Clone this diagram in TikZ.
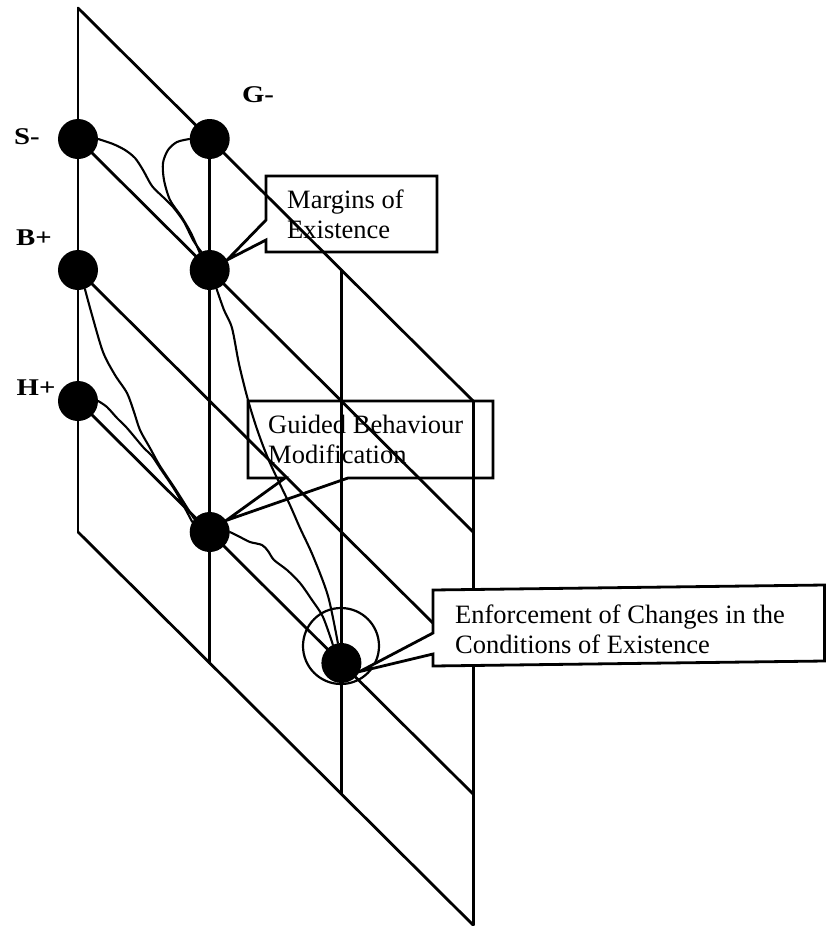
\documentclass[tikz,border=0pt]{standalone}
\usepackage{fontspec}
\setmainfont{Liberation Serif}
\begin{document}
\begin{tikzpicture}[x=1pt,y=-1pt,
  gridline/.style={line width=2.8pt, line cap=round},
  wavy/.style={line width=2.1pt, line join=round, line cap=round},
  dot/.style={circle, fill=black, minimum size=40pt, inner sep=0pt},
  lab/.style={font=\fontsize{24}{26}\selectfont\bfseries, inner sep=0pt},
  boxtext/.style={font=\fontsize{26.5}{30}\selectfont, align=left, inner sep=0pt, anchor=west},
  callout/.style={line width=2.8pt, line join=miter}
]
\useasboundingbox (0,0) rectangle (826,926);

% grid points
\foreach \i in {0,1,2,3}{
  \foreach \j in {0,1,2,3,4}{
    \coordinate (g-\i-\j) at ({78+131.7*\i},{8+131*(\i+\j)});
  }
}
% verticals
\foreach \i in {0,1,2,3}{
  \draw[gridline] (g-\i-0) -- (g-\i-4);
}
% diagonals
\foreach \j in {0,1,2,3,4}{
  \draw[gridline] (g-0-\j) -- (g-3-\j);
}

% nodes
\node[dot] (Sm) at (g-0-1) {};
\node[dot] (Gm) at (g-1-0) {};
\node[dot] (Bp) at (g-0-2) {};
\node[dot] (M)  at (g-1-1) {};
\node[dot] (Hp) at (g-0-3) {};
\node[dot] (GB) at (g-1-3) {};
\node[dot] (E)  at (g-2-3) {};

% big ring around E
\node[circle, draw, line width=2.2pt, minimum size=76pt, inner sep=0pt] (ring) at (341,646) {};

% hand-drawn connectors
\draw[wavy] plot[smooth, tension=0.5] coordinates {(Sm.east) (113,144) (125,150) (135,158) (143,170) (152,186) (163,197) (173,207) (184,222) (193,240) (M.115)};
\draw[wavy] plot[smooth, tension=0.5] coordinates {(Gm.west) (177,142) (168,150) (163,163) (164,180) (170,200) (181,216) (191,233) (M.120)};
\draw[wavy] plot[smooth, tension=0.5] coordinates {(M.-70) (224,310) (232,328) (239,364) (248,400) (258,432) (270,463) (289,503) (300,528) (313,556) (328,596) (E.100)};
\draw[wavy] plot[smooth, tension=0.5] coordinates {(Bp.-70) (92,315) (103,352) (115,375) (127,393) (134,412) (140,430) (150,448) (160,466) (176,490) (GB.140)};
\draw[wavy] plot[smooth, tension=0.5] coordinates {(Hp.east) (107,407) (117,418) (127,428) (143,447) (152,456) (160,468) (176,492) (GB.150)};
\draw[wavy] plot[smooth, tension=0.5] coordinates {(GB.east) (240,537) (250,542) (262,545) (268,551) (274,560) (287,570) (300,583) (312,600) (323,617) (E.115)};

% callout boxes
\draw[callout] (266,176) -- (437,176) -- (437,252) -- (266,252) -- (266,240) -- (M.30) -- (266,220) -- cycle;
\draw[callout] (248,401) -- (493,401) -- (493,478) -- (348,478) -- (GB.35) -- (285,478) -- (248,478) -- cycle;
\draw[callout, fill=white] (433,590) -- (824.5,585) -- (824.5,661) -- (433,666) -- (433,654) -- (E.-25) -- (433,633) -- cycle;

% box texts
\node[boxtext] (mtext) at (287,214) {Margins of\\Existence};
\node[boxtext] (gtext) at (268,439) {Guided Behaviour\\Modification};
\node[boxtext] (etext) at (455,629) {Enforcement of Changes in the\\Conditions of Existence};

% labels
\node[lab] (lS) at (27,137) {\scalebox{1.2}[1]{S-}};
\node[lab] (lG) at (258,95) {\scalebox{1.2}[1]{G-}};
\node[lab] (lB) at (34,238) {\scalebox{1.2}[1]{B+}};
\node[lab] (lH) at (36,388) {\scalebox{1.2}[1]{H+}};
\end{tikzpicture}
\end{document}
